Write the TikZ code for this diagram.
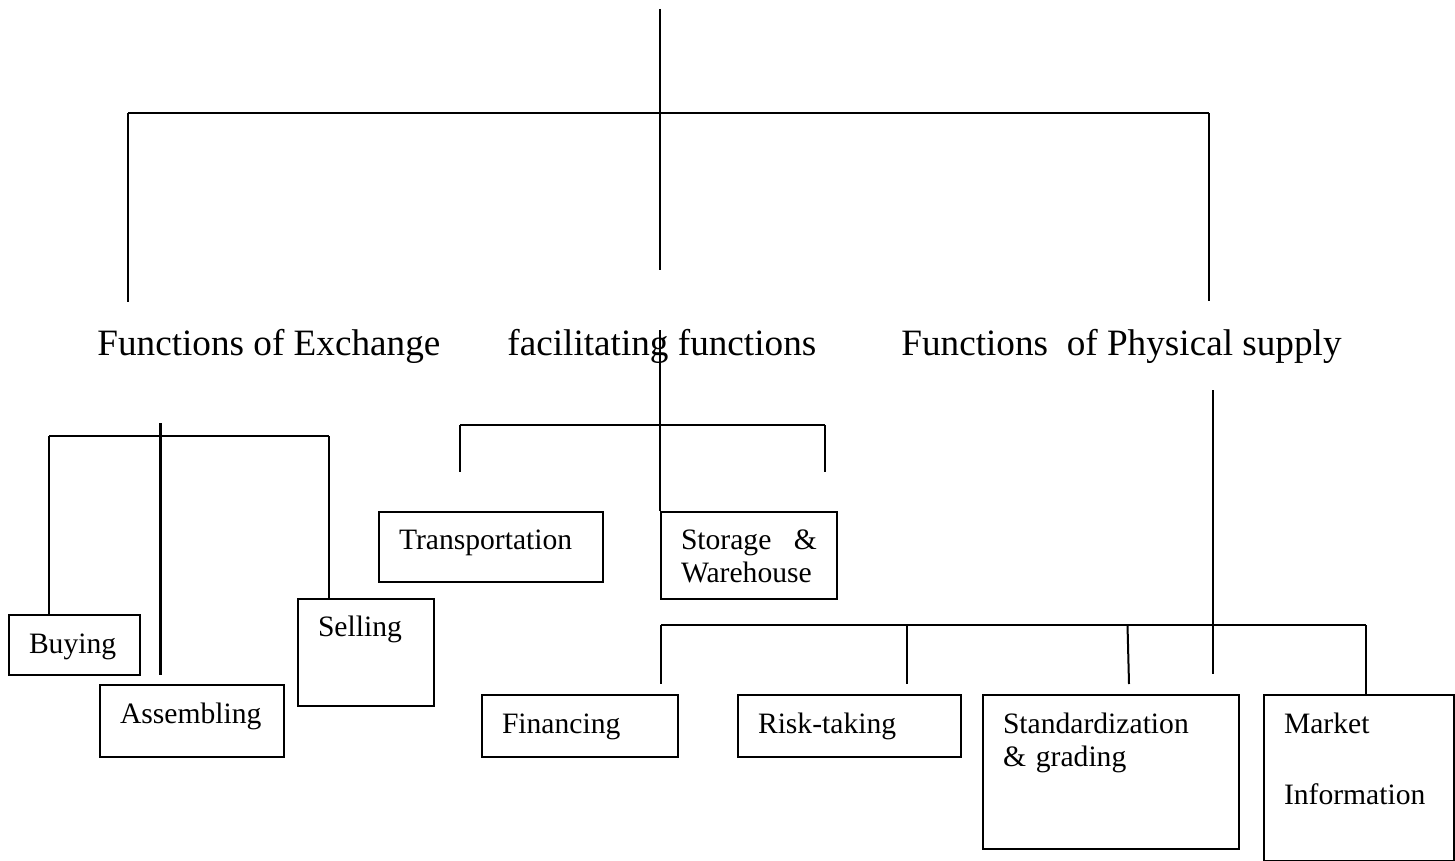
\documentclass[tikz,border=0pt]{standalone}
\usepackage{fontspec}
\setmainfont{Liberation Serif}
\usetikzlibrary{positioning}

\newcommand{\boxfont}{\fontsize{14.8pt}{16.8pt}\selectfont}
\newcommand{\headfont}{\fontsize{18.6pt}{22pt}\selectfont}

\tikzset{
  funcbox/.style={draw,line width=1pt,inner ysep=0pt,inner xsep=10pt,anchor=north west,align=left,font=\boxfont},
  heading/.style={inner sep=0pt,anchor=base west,font=\headfont},
  link/.style={line width=1pt}
}

\begin{document}
\begin{tikzpicture}[x=0.5pt,y=-0.5pt]
  \useasboundingbox (0,0) rectangle (1455,861);

  \node[heading] (exch) at (97,355) {Functions of Exchange};
  \node[heading] (facil) at (507,355) {facilitating functions};
  \node[heading] (phys) at (901,355) {Functions\ \ of Physical supply};

  \node[funcbox,text width=45.5pt,text height=19pt,text depth=11pt] (buy) at (8,614) {Buying};
  \node[funcbox,text width=72pt,text height=19pt,text depth=17pt] (assem) at (99,684) {Assembling};
  \node[funcbox,text width=48pt,text height=18.5pt,text depth=35pt] (sell) at (297,598) {Selling};
  \node[funcbox,text width=92pt,text height=18.5pt,text depth=16.5pt] (trans) at (378,511) {Transportation};
  \node[funcbox,text width=68pt,text height=18.5pt,text depth=25pt] (store) at (660,511) {Storage\hspace{\fill}\&\\Warehouse};
  \node[funcbox,text width=78pt,text height=19pt,text depth=12pt] (fin) at (481,694) {Financing};
  \node[funcbox,text width=91.5pt,text height=19pt,text depth=12pt] (risk) at (737,694) {Risk-taking};
  \node[funcbox,text width=108pt,text height=19pt,text depth=58pt] (std) at (982,694) {Standardization\\\& grading};
  \node[funcbox,text width=75pt,text height=19pt,text depth=64pt] (mkt) at (1263,694) {Market\\[18.7pt]Information};

  \coordinate (root) at (660,9);
  \coordinate (rootL) at (128,113);
  \coordinate (rootR) at (1209,113);
  \draw[link] (root) -- (660,270);
  \draw[link] (rootL) -- (rootR);
  \draw[link] (rootL) -- (128,302);
  \draw[link] (rootR) -- (1209,301);

  \coordinate (exL) at (49,436);
  \coordinate (exR) at (329,436);
  \draw[link] (exL) -- (exR);
  \draw[link] (exL) -- (exL |- buy.north);
  \draw[link] (exR) -- (exR |- sell.north);
  \draw[line width=1.5pt] (160,423) -- (160,675);

  \coordinate (faL) at (460,425);
  \coordinate (faR) at (825,425);
  \draw[link] (660,330) -- (store.north west);
  \draw[link] (faL) -- (faR);
  \draw[link] (faL) -- (460,472);
  \draw[link] (faR) -- (825,472);

  \coordinate (phL) at (661,625);
  \coordinate (phR) at (1366,625);
  \draw[link] (1213,390) -- (1213,674);
  \draw[link] (phL) -- (phR);
  \draw[link] (phL) -- (661,684);
  \draw[link] (907,625) -- (907,684);
  \draw[link] (1127.5,625) -- (1129,684);
  \draw[link] (phR) -- (phR |- mkt.north);
\end{tikzpicture}
\end{document}
